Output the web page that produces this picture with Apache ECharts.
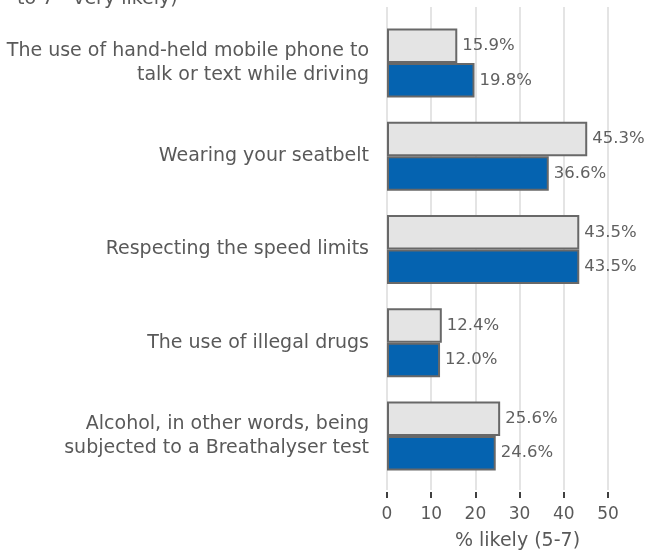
<!DOCTYPE html>
<html>
<head>
<meta charset="utf-8">
<script src="https://cdn.jsdelivr.net/npm/echarts@6/dist/echarts.min.js"></script>
<style>
html,body{margin:0;padding:0;background:#fff;}
#c{width:648px;height:551px;}
</style>
</head>
<body>
<div id="c"></div>
<script>
const categories = [
  "The use of hand-held mobile phone to\ntalk or text while driving",
  "Wearing your seatbelt",
  "Respecting the speed limits",
  "The use of illegal drugs",
  "Alcohol, in other words, being\nsubjected to a Breathalyser test"
];
const seriesGrey = [15.9, 45.3, 43.5, 12.4, 25.6];
const seriesBlue = [19.8, 36.6, 43.5, 12.0, 24.6];
const xTicks = [0, 10, 20, 30, 40, 50];

const FONT = "DejaVu Sans";
const TXT = "#595959";

const chart = echarts.init(document.getElementById('c'));
const lbl = {
  show: true, position: 'right', distance: 5,
  color: '#606060', fontFamily: FONT, fontSize: 16.5,
  formatter: p => p.value.toFixed(1) + '%'
};
chart.setOption({
  animation: false,
  backgroundColor: '#fff',
  title: {
    text: 'to 7 - very likely)',
    left: 17, top: -10, padding: 0,
    textStyle: {color: TXT, fontFamily: FONT, fontSize: 19, fontWeight: 'normal'}
  },
  grid: [
    {left: 387, right: 40, top: 16.5, bottom: 68.5, outerBoundsMode: 'none', containLabel: false},
    {left: 387, right: 40, top: 7, bottom: 61, outerBoundsMode: 'none', containLabel: false}
  ],
  xAxis: [
    {gridIndex: 0, type: 'value', min: xTicks[0], max: xTicks[xTicks.length-1], interval: 10, show: false},
    {gridIndex: 1, type: 'value', min: xTicks[0], max: xTicks[xTicks.length-1], interval: 10,
     offset: 2,
     axisLine: {show: false},
     axisTick: {show: true, length: 6, lineStyle: {color: '#404040', width: 2}},
     axisLabel: {color: TXT, fontFamily: FONT, fontSize: 17, margin: 14},
     splitLine: {show: true, lineStyle: {color: '#e4e4e4', width: 2}},
     name: '% likely (5-7)', nameLocation: 'middle', nameGap: 40,
     nameTextStyle: {color: TXT, fontFamily: FONT, fontSize: 19, padding: [0, 0, 0, 40]}
    }
  ],
  yAxis: [
    {gridIndex: 0, type: 'category', data: categories, inverse: true,
     axisLine: {show: false}, axisTick: {show: false}, splitLine: {show: false},
     axisLabel: {color: TXT, fontFamily: FONT, fontSize: 19, lineHeight: 24, margin: 18, align: 'right'}
    },
    {gridIndex: 1, type: 'category', data: categories, inverse: true, show: false}
  ],
  series: [
    {type: 'bar', xAxisIndex: 0, yAxisIndex: 0, data: seriesGrey,
     barGap: '0%', barCategoryGap: '26%',
     itemStyle: {color: '#e4e4e4', borderColor: '#686868', borderWidth: 2},
     label: lbl},
    {type: 'bar', xAxisIndex: 0, yAxisIndex: 0, data: seriesBlue,
     barGap: '0%', barCategoryGap: '26%',
     itemStyle: {color: '#0563b0', borderColor: '#686868', borderWidth: 2},
     label: lbl}
  ]
});
</script>
</body>
</html>
